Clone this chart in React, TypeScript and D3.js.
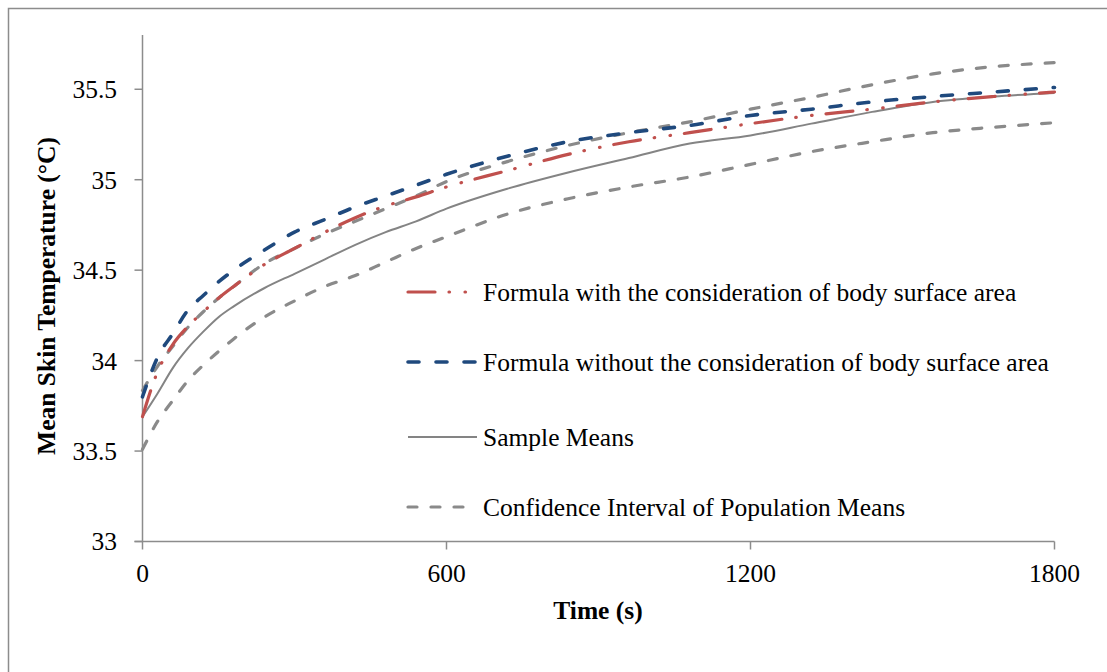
import React from "react";
import * as d3 from "d3";

const times = [0, 30, 60, 90, 120, 150, 180, 240, 300, 360, 420, 480, 540, 600, 720, 840, 960, 1080, 1200, 1320, 1440, 1560, 1680, 1800];
const withBSA = [33.69, 33.94, 34.09, 34.19, 34.27, 34.345, 34.41, 34.53, 34.62, 34.71, 34.79, 34.855, 34.905, 34.96, 35.05, 35.14, 35.21, 35.26, 35.31, 35.355, 35.39, 35.43, 35.46, 35.485];
const withoutBSA = [33.8, 34.02, 34.15, 34.28, 34.36, 34.435, 34.5, 34.61, 34.71, 34.78, 34.85, 34.91, 34.97, 35.03, 35.13, 35.21, 35.26, 35.3, 35.355, 35.39, 35.43, 35.46, 35.485, 35.51];
const sampleMeans = [33.69, 33.82, 33.96, 34.07, 34.16, 34.24, 34.3, 34.4, 34.48, 34.56, 34.64, 34.71, 34.77, 34.84, 34.95, 35.04, 35.12, 35.2, 35.245, 35.31, 35.375, 35.43, 35.46, 35.48];
const ciUpper = [33.835, 33.97, 34.08, 34.185, 34.27, 34.345, 34.41, 34.535, 34.62, 34.7, 34.77, 34.84, 34.91, 34.99, 35.1, 35.19, 35.26, 35.32, 35.39, 35.455, 35.525, 35.585, 35.625, 35.647];
const ciLower = [33.51, 33.665, 33.78, 33.89, 33.975, 34.05, 34.12, 34.24, 34.33, 34.41, 34.47, 34.545, 34.62, 34.685, 34.81, 34.895, 34.96, 35.015, 35.085, 35.155, 35.21, 35.26, 35.29, 35.315];

const xTicks = [0, 600, 1200, 1800];
const yTicks = [33, 33.5, 34, 34.5, 35, 35.5];
const yTickLabels = ["33", "33.5", "34", "34.5", "35", "35.5"];

const legendLabels = [
  "Formula with the consideration of body surface area",
  "Formula without the consideration of body surface area",
  "Sample Means",
  "Confidence Interval of Population Means",
];

const FONT = "'Liberation Serif', 'Times New Roman', serif";

export default function App() {
  const x = d3.scaleLinear().domain([0, 1800]).range([142.5, 1054.5]);
  const y = d3.scaleLinear().domain([33, 35.8]).range([541.5, 35]);
  const line = (vals: number[]) =>
    d3
      .line<number>()
      .x((_, i) => x(times[i]))
      .y((v) => y(v))
      .curve(d3.curveMonotoneX)(vals) as string;

  const styles = [
    { color: "#C0504D", width: 3.2, dash: "27 14 0.5 15.5 0.5 14", cap: "round" },
    { color: "#1F497D", width: 3.6, dash: "11 17", cap: "round" },
    { color: "#848484", width: 2, dash: "", cap: "butt" },
    { color: "#8A8A8A", width: 3.2, dash: "9 14", cap: "round" },
  ];

  const axisColor = "#8C8C8C";
  const legendY = [292, 362, 437, 507];
  const textStyle = { fontFamily: FONT };
  const FS = 25.5;

  return (
    <svg
      width={1107}
      height={672}
      style={{ position: "absolute", left: 0, top: 0, background: "#fff", fontFamily: FONT }}
    >
      <rect x={8.5} y={8.5} width={1120} height={700} fill="#fff" stroke="#8C8C8C" strokeWidth={1.5} />

      {/* axes */}
      <line x1={x(0)} x2={x(0)} y1={y(35.8)} y2={y(33)} stroke={axisColor} strokeWidth={1.5} />
      <line x1={x(0) - 8} x2={x(1800)} y1={y(33)} y2={y(33)} stroke={axisColor} strokeWidth={1.5} />
      {yTicks.map((t, i) => (
        <g key={"yt" + i}>
          <line x1={x(0) - 8} x2={x(0)} y1={y(t)} y2={y(t)} stroke={axisColor} strokeWidth={1.5} />
          <text x={117} y={y(t)} dy="0.35em" textAnchor="end" fontSize={FS} fill="#000" style={textStyle}>
            {yTickLabels[i]}
          </text>
        </g>
      ))}
      {xTicks.map((t, i) => (
        <g key={"xt" + i}>
          <line x1={x(t)} x2={x(t)} y1={y(33)} y2={y(33) + 8} stroke={axisColor} strokeWidth={1.5} />
          <text x={x(t)} y={582} textAnchor="middle" fontSize={FS} fill="#000" style={textStyle}>
            {t}
          </text>
        </g>
      ))}

      <text x={598} y={619} textAnchor="middle" fontSize={FS} fontWeight="bold" fill="#000" style={textStyle}>
        Time (s)
      </text>
      <text
        transform={`translate(55,${296}) rotate(-90)`}
        textAnchor="middle"
        fontSize={FS}
        fontWeight="bold"
        fill="#000"
        style={textStyle}
      >
        Mean Skin Temperature (°C)
      </text>

      {/* series */}
      <path d={line(ciUpper)} fill="none" stroke={styles[3].color} strokeWidth={styles[3].width} strokeDasharray={styles[3].dash} strokeLinecap="round" />
      <path d={line(ciLower)} fill="none" stroke={styles[3].color} strokeWidth={styles[3].width} strokeDasharray={styles[3].dash} strokeLinecap="round" />
      <path d={line(sampleMeans)} fill="none" stroke={styles[2].color} strokeWidth={styles[2].width} />
      <path d={line(withBSA)} fill="none" stroke={styles[0].color} strokeWidth={styles[0].width} strokeDasharray={styles[0].dash} strokeLinecap="round" />
      <path d={line(withoutBSA)} fill="none" stroke={styles[1].color} strokeWidth={styles[1].width} strokeDasharray={styles[1].dash} strokeLinecap="round" />

      {/* legend */}
      {legendLabels.map((lab, i) => (
        <g key={"lg" + i}>
          <line
            x1={408}
            x2={477}
            y1={legendY[i]}
            y2={legendY[i]}
            stroke={styles[i].color}
            strokeWidth={styles[i].width}
            strokeDasharray={styles[i].dash || undefined}
            strokeLinecap={styles[i].cap as any}
          />
          <text x={483} y={legendY[i]} dy="0.35em" fontSize={FS} fill="#000" style={textStyle}>
            {lab}
          </text>
        </g>
      ))}
    </svg>
  );
}
